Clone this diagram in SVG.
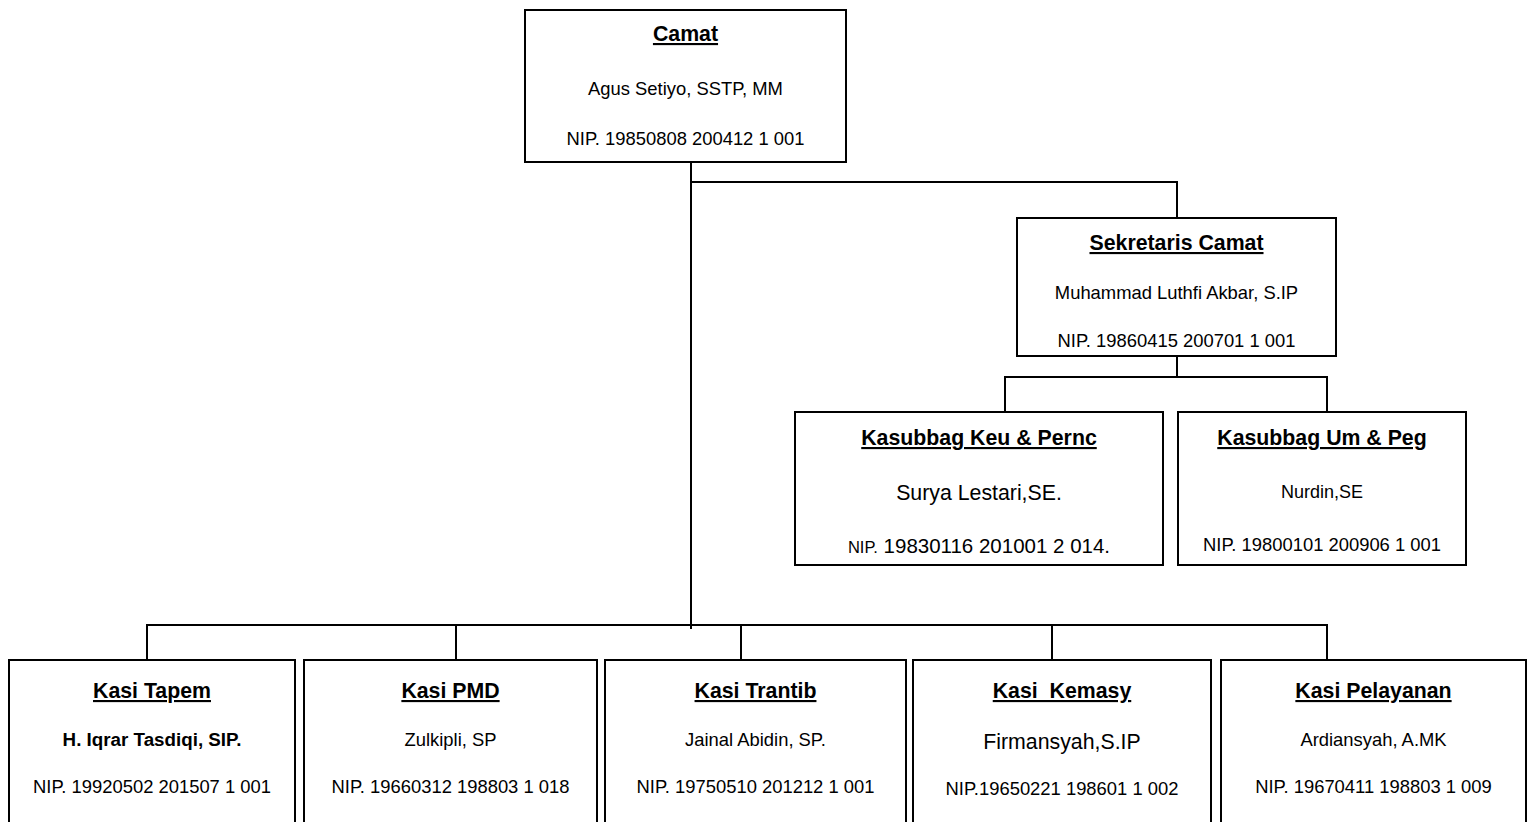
<svg xmlns="http://www.w3.org/2000/svg" width="1531" height="822" viewBox="0 0 1531 822">
<style>
  .box { fill: #ffffff; stroke: #000000; stroke-width: 2; }
  .ln { fill: none; stroke: #000000; stroke-width: 2; }
  text { font-family: "Liberation Sans", Arial, sans-serif; fill: #000000; text-anchor: middle; }
  .t { font-weight: bold; font-size: 21.3px; text-decoration: underline; }
  .n { font-size: 18.4px; }
  .nb { font-size: 18.8px; font-weight: bold; }
  .big { font-size: 21.3px; }
</style>
<rect width="1531" height="822" fill="#ffffff"/>
<g id="connectors">
  <path class="ln" d="M691,162 V629"/>
  <path class="ln" d="M691,182 H1177 V218"/>
  <path class="ln" d="M1177,356 V377"/>
  <path class="ln" d="M1005,412 V377 H1327 V412"/>
  <path class="ln" d="M147,660 V625 H1327 V660"/>
  <path class="ln" d="M456,625 V660"/>
  <path class="ln" d="M741,625 V660"/>
  <path class="ln" d="M1052,625 V660"/>
</g>
<g id="camat">
  <rect class="box" x="525" y="10" width="321" height="152"/>
  <text class="t" x="685.5" y="41">Camat</text>
  <text class="n" x="685.5" y="95">Agus Setiyo, SSTP, MM</text>
  <text class="n" x="685.5" y="145">NIP. 19850808 200412 1 001</text>
</g>
<g id="sekretaris">
  <rect class="box" x="1017" y="218" width="319" height="138"/>
  <text class="t" x="1176.5" y="250">Sekretaris Camat</text>
  <text class="n" x="1176.5" y="299">Muhammad Luthfi Akbar, S.IP</text>
  <text class="n" x="1176.5" y="347">NIP. 19860415 200701 1 001</text>
</g>
<g id="kasubbag-keu">
  <rect class="box" x="795" y="412" width="368" height="153"/>
  <text class="t" x="979" y="445">Kasubbag Keu &amp; Pernc</text>
  <text class="big" x="979" y="500">Surya Lestari,SE.</text>
  <text x="979" y="553" font-size="20.5px"><tspan font-size="16.5px">NIP.</tspan>  19830116 201001 2 014.</text>
</g>
<g id="kasubbag-um">
  <rect class="box" x="1178" y="412" width="288" height="153"/>
  <text class="t" x="1322" y="445">Kasubbag Um &amp; Peg</text>
  <text x="1322" y="498" font-size="18px">Nurdin,SE</text>
  <text class="n" x="1322" y="551">NIP. 19800101 200906 1 001</text>
</g>
<g id="kasi-tapem">
  <rect class="box" x="9" y="660" width="286" height="175"/>
  <text class="t" x="152" y="698">Kasi Tapem</text>
  <text class="nb" x="152" y="746">H. Iqrar Tasdiqi, SIP.</text>
  <text class="n" x="152" y="793">NIP. 19920502 201507 1 001</text>
</g>
<g id="kasi-pmd">
  <rect class="box" x="304" y="660" width="293" height="175"/>
  <text class="t" x="450.5" y="698">Kasi PMD</text>
  <text class="n" x="450.5" y="746">Zulkipli, SP</text>
  <text class="n" x="450.5" y="793">NIP. 19660312 198803 1 018</text>
</g>
<g id="kasi-trantib">
  <rect class="box" x="605" y="660" width="301" height="175"/>
  <text class="t" x="755.5" y="698">Kasi Trantib</text>
  <text class="n" x="755.5" y="746">Jainal Abidin, SP.</text>
  <text class="n" x="755.5" y="793">NIP. 19750510 201212 1 001</text>
</g>
<g id="kasi-kemasy">
  <rect class="box" x="913" y="660" width="298" height="175"/>
  <text class="t" x="1062" y="698" xml:space="preserve">Kasi  Kemasy</text>
  <text class="big" x="1062" y="749">Firmansyah,S.IP</text>
  <text class="n" x="1062" y="795">NIP.19650221 198601 1 002</text>
</g>
<g id="kasi-pelayanan">
  <rect class="box" x="1221" y="660" width="305" height="175"/>
  <text class="t" x="1373.5" y="698">Kasi Pelayanan</text>
  <text class="n" x="1373.5" y="746">Ardiansyah, A.MK</text>
  <text class="n" x="1373.5" y="793">NIP. 19670411 198803 1 009</text>
</g>
</svg>
